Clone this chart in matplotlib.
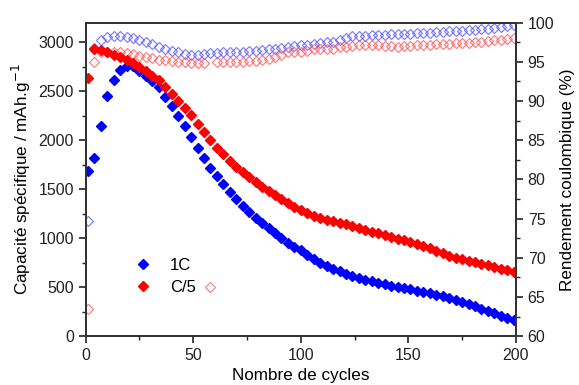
import numpy as np
import matplotlib
matplotlib.use("Agg")
import matplotlib.pyplot as plt
import matplotlib.ticker as ticker

plt.rcParams['font.family'] = ['Liberation Sans', 'DejaVu Sans']

# cycle numbers (one point every 3 cycles)
cycles = list(range(1, 200, 3))

# specific capacity (mAh/g)
cap_1C = [1690, 1820, 2150, 2450, 2620, 2720, 2760, 2755, 2705, 2660,
          2600, 2540, 2445, 2345, 2250, 2145, 2030, 1920, 1820, 1720,
          1630, 1555, 1475, 1400, 1330, 1265, 1210, 1155, 1100, 1050,
          1000, 955, 910, 875, 830, 790, 750, 715, 685, 660,
          635, 615, 595, 575, 560, 545, 530, 515, 500, 490,
          478, 465, 450, 437, 422, 405, 388, 370, 350, 330,
          305, 280, 255, 232, 208, 183, 160]
cap_C5 = [2640, 2930, 2925, 2900, 2875, 2855, 2820, 2785, 2745, 2705,
          2660, 2610, 2540, 2475, 2405, 2330, 2255, 2170, 2080, 2000,
          1920, 1855, 1790, 1730, 1675, 1620, 1570, 1525, 1485, 1445,
          1400, 1360, 1320, 1290, 1255, 1225, 1205, 1190, 1178, 1160,
          1140, 1120, 1100, 1085, 1068, 1050, 1030, 1012, 995, 978,
          962, 940, 918, 895, 872, 852, 820, 800, 785, 770,
          755, 740, 725, 708, 690, 672, 655]

# coulombic efficiency (%)
eff_1C = [74.7, 96.8, 97.8, 98.2, 98.35, 98.3, 98.2, 98.0, 97.8, 97.6,
          97.3, 96.95, 96.65, 96.4, 96.2, 96.0, 95.9, 95.9, 96.0, 96.1,
          96.1, 96.2, 96.23, 96.27, 96.3, 96.4, 96.45, 96.5, 96.6, 96.7,
          96.75, 96.95, 97.05, 97.1, 97.2, 97.3, 97.35, 97.5, 97.6, 97.8,
          98.1, 98.25, 98.3, 98.35, 98.4, 98.45, 98.48, 98.5, 98.55, 98.6,
          98.62, 98.66, 98.7, 98.75, 98.8, 98.85, 98.9, 98.95, 99.0, 99.05,
          99.1, 99.15, 99.2, 99.3, 99.4, 99.55, 99.7]
eff_C5 = [63.4, 95.0, 96.3, 96.3, 96.25, 96.2, 96.1, 96.0, 95.75, 95.6,
          95.5, 95.3, 95.25, 95.1, 95.0, 94.95, 94.9, 94.9, 94.8, 66.3,
          94.95, 94.95, 94.95, 95.03, 95.03, 95.1, 95.15, 95.25, 95.4, 95.6,
          95.9, 96.2, 96.2, 96.3, 96.45, 96.6, 96.6, 96.7, 96.6, 96.85,
          96.95, 97.05, 97.2, 97.15, 97.1, 97.1, 97.05, 97.0, 96.95, 97.0,
          97.05, 97.1, 97.15, 97.2, 97.25, 97.3, 97.3, 97.35, 97.4, 97.45,
          97.5, 97.6, 97.65, 97.75, 97.85, 97.95, 98.05]

fig = plt.figure(figsize=(5.79, 3.85), dpi=100)
ax = fig.add_axes([0.148, 0.127, 0.743, 0.814])
ax2 = ax.twinx()

# efficiency (open, light) on right axis
ax2.plot(cycles, eff_1C, ls='', marker='D', ms=5, mfc='none', mec=(0.35, 0.35, 1.0, 0.75), mew=0.9)
ax2.plot(cycles, eff_C5, ls='', marker='D', ms=5, mfc='none', mec=(1.0, 0.35, 0.35, 0.75), mew=0.9)

# capacity (filled) on left axis
ax.set_zorder(ax2.get_zorder() + 1)
ax.patch.set_visible(False)
ax.plot(cycles, cap_1C, ls='', marker='D', ms=5, color='#0000ff', mec='#0000ff', label='1C')
ax.plot(cycles, cap_C5, ls='', marker='D', ms=5, color='#ff0000', mec='#ff0000', label='C/5')

ax.set_xlim(0, 200)
ax.set_ylim(0, 3200)
ax2.set_ylim(60, 100)

ax.xaxis.set_major_locator(ticker.MultipleLocator(50))
ax.xaxis.set_minor_locator(ticker.MultipleLocator(25))
ax.yaxis.set_major_locator(ticker.MultipleLocator(500))
ax.yaxis.set_minor_locator(ticker.MultipleLocator(250))
ax2.yaxis.set_major_locator(ticker.MultipleLocator(5))
ax2.yaxis.set_minor_locator(ticker.MultipleLocator(2.5))

for a in (ax, ax2):
    a.tick_params(which='major', direction='out', length=5, width=1.2, labelsize=11.5, colors='#222222')
    a.tick_params(which='minor', direction='out', length=3, width=1.0, colors='#222222')
    for sp in a.spines.values():
        sp.set_linewidth(1.3)
        sp.set_color('#333333')
ax.tick_params(top=False, which='both')

ax.set_xlabel("Nombre de cycles", fontsize=12.3)
ax.set_ylabel("Capacité spécifique / mAh.g$^{-1}$", fontsize=12.3)
ax2.set_ylabel("Rendement coulombique (%)", fontsize=12.3)

ax.legend(loc='center left', bbox_to_anchor=(0.06, 0.19), frameon=False,
          fontsize=12, handletextpad=0.6, labelspacing=0.4, markerscale=1.0)

fig.savefig("out.png", dpi=100)
